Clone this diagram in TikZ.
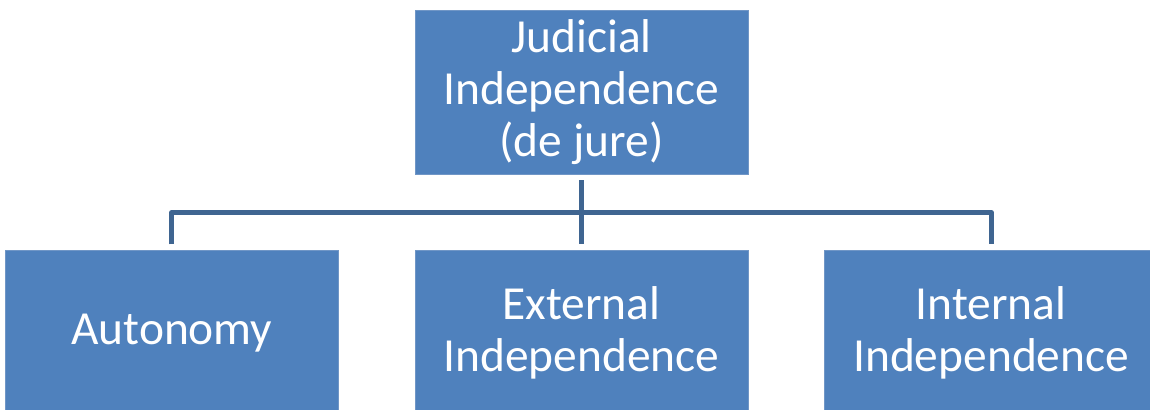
\documentclass[tikz,border=0pt]{standalone}
\usepackage{fontspec}
\setmainfont{Carlito}
\usetikzlibrary{positioning}
\definecolor{boxblue}{HTML}{4F81BD}
\definecolor{edgeblue}{HTML}{7096C6}
\definecolor{linkblue}{HTML}{3F6591}
\tikzset{box/.style={draw=edgeblue,fill=boxblue,text=white,align=center,minimum width=6.66cm,minimum height=3.28cm,inner sep=0pt,font=\fontsize{27}{29.6}\selectfont},link/.style={draw=linkblue,line width=2.8pt,line join=round,shorten <=0.12cm,shorten >=0.12cm}}

\begin{document}
\begin{tikzpicture}[node distance=1.52cm and 1.52cm]
\clip (0,0) rectangle (23,8.2);
\useasboundingbox (0,0) rectangle (23,8.2);
\node[box] (judicial) at (11.63,6.36) {Judicial\\Independence\\(de jure)};
\node[box,below=of judicial] (external) {External\\Independence};
\node[box,left=of external] (autonomy) {Autonomy};
\node[box,right=of external] (internal) {Internal\\Independence};
\coordinate[below=0.76cm of judicial] (bus);
\draw[link] (judicial) -- (external);
\draw[link] (autonomy.north) |- (bus) -| (internal.north);
\end{tikzpicture}
\end{document}
